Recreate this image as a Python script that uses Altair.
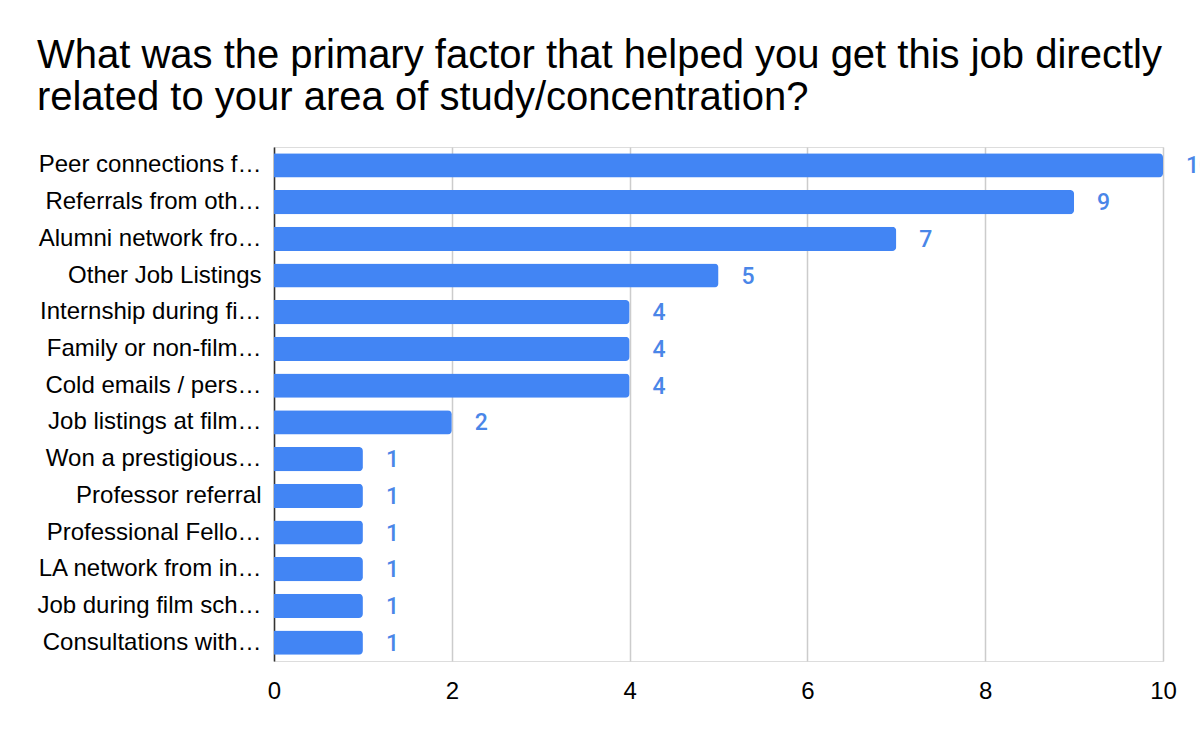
import altair as alt
import pandas as pd

# Category labels as displayed (the source chart shows them truncated)
categories = [
    "Peer connections f\u2026",
    "Referrals from oth\u2026",
    "Alumni network fro\u2026",
    "Other Job Listings",
    "Internship during fi\u2026",
    "Family or non-film\u2026",
    "Cold emails / pers\u2026",
    "Job listings at film\u2026",
    "Won a prestigious\u2026",
    "Professor referral",
    "Professional Fello\u2026",
    "LA network from in\u2026",
    "Job during film sch\u2026",
    "Consultations with\u2026",
]
values = [10, 9, 7, 5, 4, 4, 4, 2, 1, 1, 1, 1, 1, 1]
tick_values = [0, 2, 4, 6, 8, 10]

df = pd.DataFrame({"factor": categories, "count": values})

FONT = "Liberation Sans"
BLUE = "#4285F4"

y_enc = alt.Y(
    "factor:N",
    sort=categories,
    title=None,
    scale=alt.Scale(paddingInner=0.34, paddingOuter=0.17),
    axis=alt.Axis(
        labelFont=FONT, labelFontSize=24, labelColor="#000000",
        labelLimit=300, labelPadding=13, ticks=False,
        domain=True, domainColor="#333333", domainWidth=1.5,
    ),
)
x_enc = alt.X(
    "count:Q",
    title=None,
    scale=alt.Scale(domain=[0, 10], nice=False),
    axis=alt.Axis(
        values=tick_values, format="d", labelFont=FONT, labelFontSize=24,
        labelColor="#000000", labelPadding=18, labelFlush=False, ticks=False,
        domain=False, grid=True, gridColor="#cccccc", gridWidth=1.5,
    ),
)

bars = alt.Chart(df).mark_bar(color=BLUE, cornerRadiusEnd=4).encode(x=x_enc, y=y_enc)
labels = alt.Chart(df).mark_text(
    align="left", baseline="middle", dx=23, dy=1, font="Roboto", fontSize=23,
    fontWeight=500, color="#4a86e8",
).encode(x="count:Q", y=alt.Y("factor:N", sort=categories), text="count:Q")

chart = (
    alt.layer(bars, labels)
    .properties(
        width=889,
        height=514,
        title=alt.TitleParams(
            text=[
                "What was the primary factor that helped you get this job directly",
                "related to your area of study/concentration?",
            ],
            font=FONT, fontSize=40, fontWeight="normal", color="#000000",
            anchor="start", frame="bounds", offset=29, lineHeight=42,
        ),
        autosize=alt.AutoSizeParams(type="none"),
        padding={"left": 274, "top": 147, "right": 37, "bottom": 81},
    )
    .configure_view(stroke=None)
    .configure(background="white")
)

chart.save("out.html", embed_options={"renderer": "svg", "actions": False})
